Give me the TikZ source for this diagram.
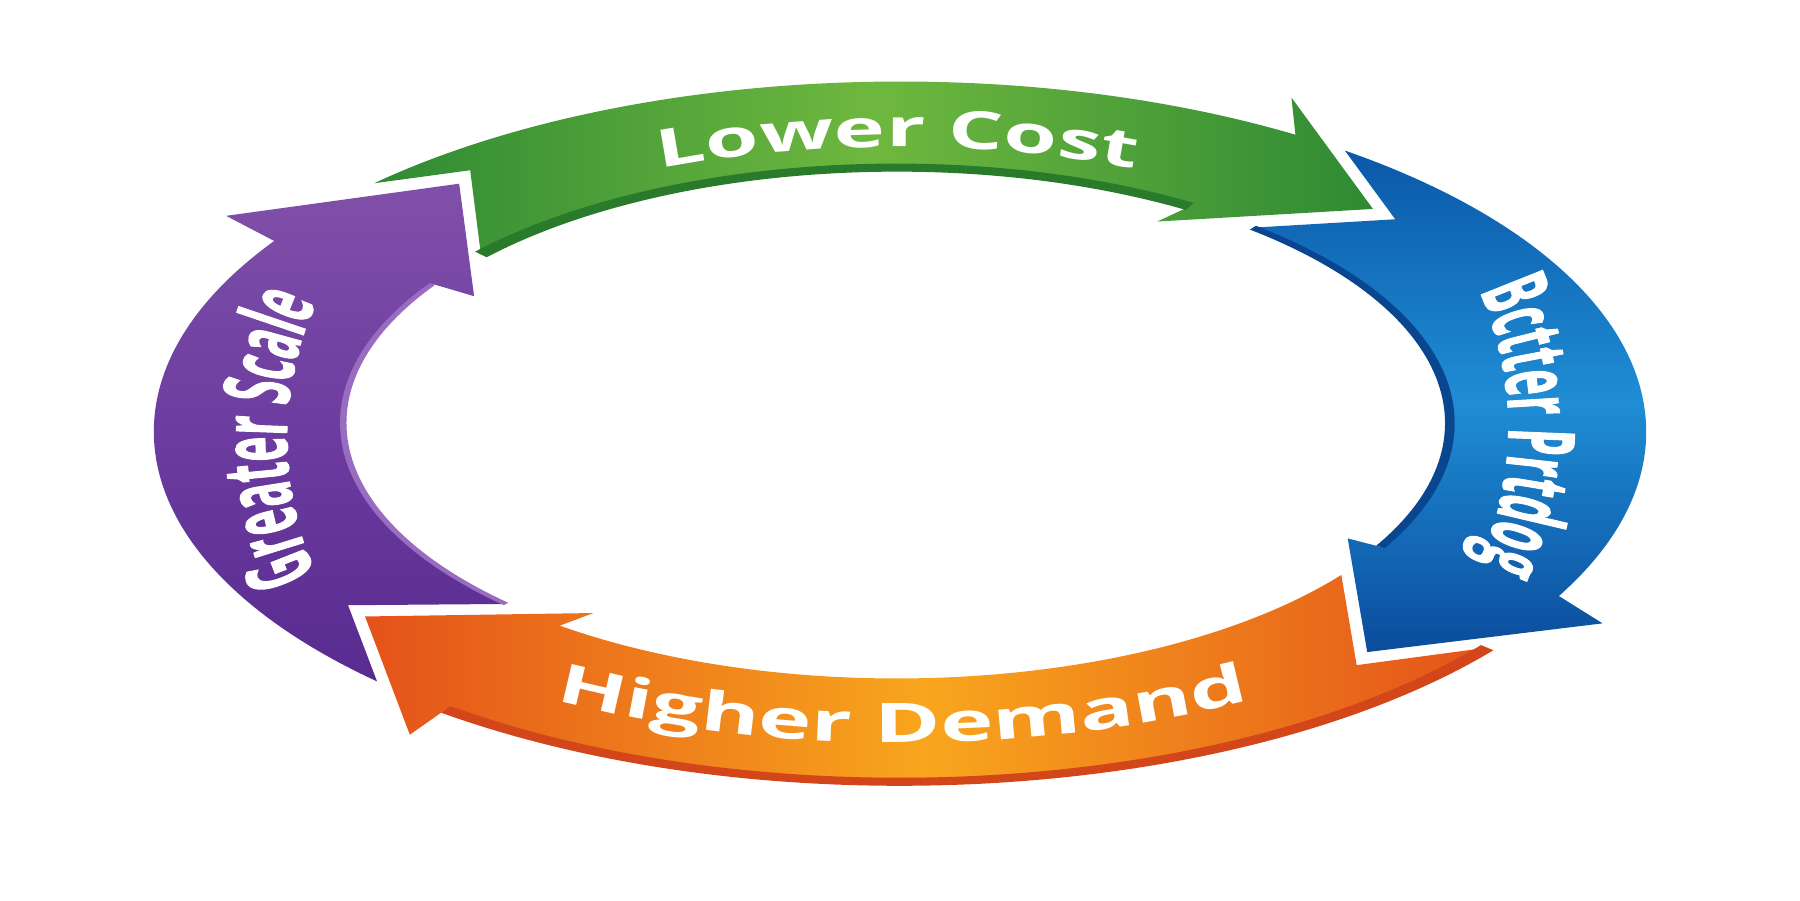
\documentclass[tikz,border=0pt]{standalone}
\usepackage{fontspec}
\setmainfont{Open Sans}
\newfontfamily\widefont[FakeStretch=1.65]{Open Sans}
\newfontfamily\narrowfont[FakeStretch=0.45,FakeBold=1]{Open Sans}
\usetikzlibrary{decorations.text}
\definecolor{grdark}{HTML}{2F8A33}
\definecolor{grlight}{HTML}{6FB83F}
\definecolor{grlip}{HTML}{2A7A2C}
\definecolor{bltop}{HTML}{0B58A8}
\definecolor{bllight}{HTML}{1F8DD5}
\definecolor{bldark}{HTML}{0A4C9C}
\definecolor{bllip}{HTML}{0A4590}
\definecolor{ordark}{HTML}{E4521A}
\definecolor{orlight}{HTML}{F8A61D}
\definecolor{orlip}{HTML}{D2461A}
\definecolor{pulight}{HTML}{8050A9}
\definecolor{pumid}{HTML}{6C3CA0}
\definecolor{pudark}{HTML}{582B90}
\definecolor{pulip}{HTML}{9A6CC0}
\newcommand{\topfont}{\widefont\fontsize{13}{14}\selectfont\bfseries\color{white}}
\newcommand{\lowfont}{\widefont\fontsize{13.5}{14}\selectfont\bfseries\color{white}}
\newcommand{\sidefont}{\narrowfont\fontsize{23}{24}\selectfont\bfseries\color{white}}
\begin{document}
\begin{tikzpicture}
  [outring/.style={x radius=3.25, y radius=3.05},
   inring/.style={x radius=2.41, y radius=2.225},
   upring/.style={x radius=5.32, y radius=2.43},
   lowring/.style={x radius=6, y radius=2.74},
   sidering/.style={x radius=2.5, y radius=2.7},
   greenband/.style={left color=grdark, right color=grdark, middle color=grlight},
   blueband/.style={top color=bltop, bottom color=bldark, middle color=bllight},
   orangeband/.style={left color=ordark, right color=ordark, middle color=orlight},
   purpleband/.style={top color=pulight, bottom color=pudark, middle color=pumid},
   bandtext/.style={decorate, decoration={text along path, text align=center, text={#1}}}]
\useasboundingbox (-7.84,-3.92) rectangle (7.84,3.92);
\begin{scope}[transform canvas={xscale=2}]
% the four arrows of the ring
\path[greenband] ([shift={(0,.16)}]134.8:3.25 and 3.05) arc[start angle=134.8, end angle=58, outring]
  -- (1.705,3.07) -- (2.06,2.10) -- (1.12,1.99)
  -- ([shift={(-.015,.235)}]58:2.41 and 2.225) arc[start angle=58, end angle=138.7, inring]
  -- (-1.872,2.437) -- cycle;
\path[blueband] ([shift={(0,.16)}]53.4:3.25 and 3.05) arc[start angle=53.4, end angle=-28, outring]
  -- (3.06,-1.51) -- (2.035,-1.76) -- (1.95,-0.77)
  -- ([shift={(-.015,.235)}]-29:2.41 and 2.225) arc[start angle=-29, end angle=49.9, inring]
  -- (2.157,2.010) -- cycle;
\path[orangeband] ([shift={(0,.16)}]-38.1:3.25 and 3.05) arc[start angle=-38.1, end angle=-127.5, outring]
  -- (-2.135,-2.48) -- (-2.33,-1.45) -- (-1.335,-1.42)
  -- ([shift={(-.015,.235)}]-127.5:2.41 and 2.225) arc[start angle=-127.5, end angle=-36.5, inring]
  -- (1.989,-1.874) -- cycle;
\path[purpleband] ([shift={(0,.16)}]225.5:3.25 and 3.05) arc[start angle=225.5, end angle=147, outring]
  -- (-2.935,2.04) -- (-1.92,2.32) -- (-1.855,1.34)
  -- ([shift={(-.015,.235)}]147:2.41 and 2.225) arc[start angle=147, end angle=225.1, inring]
  -- (-2.404,-1.352) -- cycle;
% darker edges
\draw[grlip, line width=2pt] ([shift={(-.015,.235)}]58:2.41 and 2.225) arc[start angle=58, end angle=138.7, inring];
\draw[bllip, line width=1.2pt] ([shift={(-.015,.235)}]-29:2.41 and 2.225) arc[start angle=-29, end angle=49.9, inring];
\draw[orlip, line width=2pt] ([shift={(0,.16)}]-38.1:3.25 and 3.05) arc[start angle=-38.1, end angle=-127.5, outring];
\draw[pulip, line width=.8pt] ([shift={(-.015,.235)}]147:2.41 and 2.225) arc[start angle=147, end angle=225.1, inring];
\end{scope}
% labels
\path[bandtext={|\topfont|Lower Cost}] ([shift={(-.02,.21)}]150:5.32 and 2.43) arc[start angle=150, end angle=30, upring];
\path[bandtext={|\sidefont|Bctter Prtdog}] ([shift={(2.8,.2)}]50:2.5 and 2.7) arc[start angle=50, end angle=-50, sidering];
\path[bandtext={|\lowfont|Higher Demand}] ([shift={(.02,.19)}]220:6 and 2.74) arc[start angle=220, end angle=320, lowring];
\path[bandtext={|\sidefont|Greater Scale}] ([shift={(-2.84,.1)}]230:2.5 and 2.7) arc[start angle=230, end angle=130, sidering];
\end{tikzpicture}
\end{document}
